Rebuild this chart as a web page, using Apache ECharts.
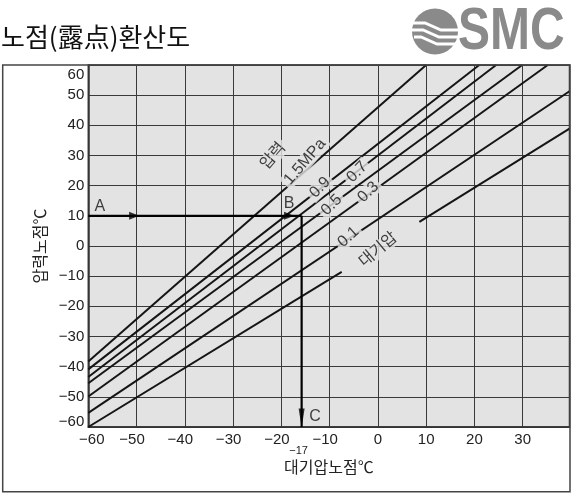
<!DOCTYPE html>
<html><head><meta charset="utf-8">
<script src="https://cdn.jsdelivr.net/npm/echarts@6/dist/echarts.min.js"></script>
<style>html,body{margin:0;padding:0;background:#fff}#c{width:574px;height:498px}</style>
</head><body><div id="c"></div>
<script>
// ---- data ----
const titleText = '노점(露点)환산도';
const xName = '대기압노점℃';
const yName = '압력노점℃';
const xTicks = [-60, -50, -40, -30, -20, -10, 0, 10, 20, 30];
const yTicks = [-60, -50, -40, -30, -20, -10, 0, 10, 20, 30, 40, 50, 60];
const xMin = -60, xMax = 39.7, yMin = -60, yMax = 60;

// pressure dew point lines [atmospheric dew point, pressure dew point]
const line15 = [[-60, -38.3], [10.0, 60]];
const line09 = [[-60, -40.9], [21.0, 60]];
const line07 = [[-60, -43.4], [24.5, 60]];
const line05 = [[-60, -45.5], [29.9, 60]];
const line03 = [[-60, -49.9], [35.2, 60]];
const line01 = [[-60, -55.3], [39.7, 51.3]];
const atmLow = [[-60, -60], [-7.5, -8.6]];
const atmHigh = [[8.6, 8.0], [39.7, 38.9]];

// line labels: [x, y, text, line it follows]
const lineLabels = [
  [-21.7, 29.8, '압력', 'line15'],
  [-15.1, 27.9, '1.5MPa', 'line15'],
  [-12.0, 19.4, '0.9', 'line09'],
  [-4.3, 24.5, '0.7', 'line07'],
  [-9.6, 13.6, '0.5', 'line05'],
  [-2.0, 17.9, '0.3', 'line03'],
  [-6.1, 3.0, '0.1', 'line01'],
  [0.1, -1.3, '대기압', 'atmHigh']
];

// example reading A -> B -> C
const routeAB = [[-60, 10], [-15.8, 10]];
const routeBC = [[-15.8, 10], [-15.8, -60]];
const arrowRight = [[-50.5, 10], [-18.4, 10]];
const arrowDown = [[-15.8, -57.0]];
const pointLabels = [[-57.6, 12.9, 'A'], [-18.4, 13.9, 'B'], [-13.0, -56.7, 'C']];
const cReading = { x: -15.8, text: '\u221217' };

// ---- rendering ----
const lines = { line15, line09, line07, line05, line03, line01, atmLow, atmHigh };
const BG = '#e3e3e3';
const FONT = "'Liberation Sans', 'Noto Sans CJK KR', sans-serif";
const TILT = 8; // labels are drawn a little steeper than their lines
const fmt = v => (v < 0 ? '\u2212' + Math.abs(v) : String(v));
const chart = echarts.init(document.getElementById('c'));

function lineSeries(name, data) {
  return { type: 'line', name, data, symbol: 'none', silent: true, z: 3,
    lineStyle: { color: '#151515', width: 2 }, animation: false };
}

function buildOption(angles) {
  const series = Object.keys(lines).map(k => lineSeries(k, lines[k]));
  series.push({ type: 'line', data: routeAB, symbol: 'none', z: 4, lineStyle: { color: '#000', width: 2.2 } });
  series.push({ type: 'line', data: routeBC, symbol: 'none', z: 4, lineStyle: { color: '#000', width: 2.2 } });
  series.push({ type: 'scatter', data: arrowRight, symbol: 'triangle', symbolRotate: -90, symbolSize: [8, 10], z: 5,
    itemStyle: { color: '#000' } });
  series.push({ type: 'scatter', data: arrowDown, symbol: 'triangle', symbolRotate: 180, symbolSize: [6, 19], z: 5,
    itemStyle: { color: '#000' } });
  series.push({ type: 'scatter', symbolSize: 0, z: 6, silent: true,
    data: pointLabels.map(p => ({ value: [p[0], p[1]], label: { formatter: p[2] } })),
    label: { show: true, position: 'inside', color: '#111', fontSize: 16, fontFamily: FONT } });
  series.push({ type: 'scatter', symbolSize: 0, z: 10, silent: true,
    data: lineLabels.map((p, i) => ({ value: [p[0], p[1]],
      label: { formatter: p[2], rotate: angles ? angles[i] : 0 } })),
    label: { show: true, position: 'inside', color: '#111', fontSize: 16, fontFamily: FONT,
      backgroundColor: BG, padding: [0, 3], align: 'center', verticalAlign: 'middle' } });

  return {
    animation: false,
    backgroundColor: '#fff',
    grid: { left: 88.3, top: 65, width: 481.2, height: 362, show: true, backgroundColor: BG,
      borderColor: '#333', borderWidth: 1.5, containLabel: false, outerBoundsMode: 'none' },
    xAxis: [{
      type: 'value', min: xMin, max: xMax, interval: 10,
      name: xName, nameLocation: 'middle', nameGap: 34, nameMoveOverlap: false,
      nameTextStyle: { fontSize: 16, color: '#222', fontFamily: FONT },
      axisLine: { show: true, onZero: false, lineStyle: { color: '#333', width: 1.5 } },
      axisTick: { show: false },
      splitLine: { show: true, lineStyle: { color: '#3a3a3a', width: 1 } },
      axisLabel: { customValues: xTicks, margin: 5, color: '#222', fontSize: 15, fontFamily: FONT,
        formatter: v => v === -60 ? '{f|' + fmt(v) + '}' : (v < 0 ? '{n|' + fmt(v) + '}' : fmt(v)),
        rich: { f: { padding: [0, 0, 0, 7], fontSize: 15, color: '#222', fontFamily: FONT },
                n: { padding: [0, 9, 0, 0], fontSize: 15, color: '#222', fontFamily: FONT } } }
    }, {
      type: 'value', min: xMin, max: xMax, position: 'bottom', gridIndex: 0,
      axisLine: { show: false, onZero: false }, axisTick: { show: false }, splitLine: { show: false },
      axisLabel: { customValues: [cReading.x], margin: 18, color: '#222', fontSize: 11, fontFamily: FONT,
        formatter: () => '{m|' + cReading.text + '}',
        rich: { m: { padding: [0, 6, 0, 0], fontSize: 11, color: '#222', fontFamily: FONT } } }
    }],
    yAxis: {
      type: 'value', min: yMin, max: yMax, interval: 10,
      name: yName, nameLocation: 'middle', nameGap: 39, nameMoveOverlap: false,
      nameTextStyle: { fontSize: 16, color: '#222', fontFamily: FONT },
      axisLine: { show: true, onZero: false, lineStyle: { color: '#333', width: 1.5 } },
      axisTick: { show: false },
      splitLine: { show: true, lineStyle: { color: '#3a3a3a', width: 1 } },
      axisLabel: { customValues: yTicks, margin: 4, color: '#222', fontSize: 15, fontFamily: FONT,
        formatter: v => v === yMax ? '{t|' + fmt(v) + '}' : (v === yMin ? '{b|' + fmt(v) + '}' : fmt(v)),
        rich: { t: { padding: [20, 0, 0, 0], fontSize: 15, color: '#222', fontFamily: FONT },
                b: { padding: [0, 0, 10, 0], fontSize: 15, color: '#222', fontFamily: FONT } } }
    },
    graphic: [
      { type: 'rect', shape: { x: 2.7, y: 65, width: 567.3, height: 426.7 }, z: 100, silent: true,
        style: { fill: 'none', stroke: '#444', lineWidth: 1.5 } },
      { type: 'text', x: 1, y: 37, style: { text: titleText, font: "26px 'Noto Sans CJK KR'", fill: '#111',
        verticalAlign: 'middle', align: 'left' } },
      { type: 'circle', shape: { cx: 435, cy: 31.5, r: 23 }, style: { fill: '#8a8a8a' } },
      { type: 'polyline', shape: { points: [[410, 23], [425, 23], [441, 30], [463, 30]] }, style: { stroke: '#fff', lineWidth: 3, fill: 'none' } },
      { type: 'polyline', shape: { points: [[411, 30], [423, 30], [439, 37], [463, 37]] }, style: { stroke: '#fff', lineWidth: 3, fill: 'none' } },
      { type: 'polyline', shape: { points: [[414, 37], [421, 37], [437, 44], [460, 44]] }, style: { stroke: '#fff', lineWidth: 3, fill: 'none' } },
      { type: 'text', x: 458, y: 32, scaleX: 0.8, style: { text: 'SMC', font: "bold 60px 'Liberation Sans'",
        fill: '#8a8a8a', verticalAlign: 'middle', align: 'left' } }
    ],
    series
  };
}

chart.setOption(buildOption(null));
const angles = lineLabels.map(p => {
  const d = lines[p[3]];
  const a = chart.convertToPixel({ gridIndex: 0 }, d[0]);
  const b = chart.convertToPixel({ gridIndex: 0 }, d[d.length - 1]);
  return Math.atan2(a[1] - b[1], b[0] - a[0]) * 180 / Math.PI + TILT;
});
chart.setOption(buildOption(angles));
</script>
</body></html>
